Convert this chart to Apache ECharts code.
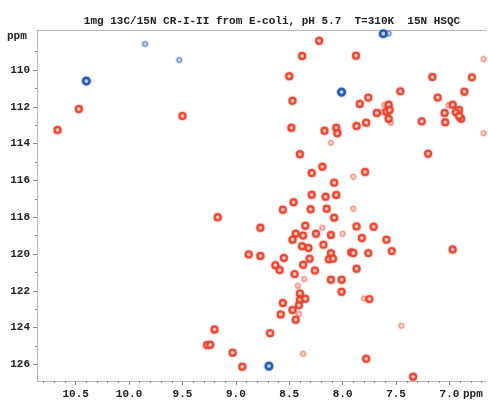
<!DOCTYPE html>
<html>
<head>
<meta charset="utf-8">
<script src="https://cdn.jsdelivr.net/npm/echarts@6/dist/echarts.min.js"></script>
<style>
  html, body { margin: 0; padding: 0; background: #fff; }
  #chart { width: 488px; height: 400px; }
</style>
</head>
<body>
<div id="chart"></div>
<script>
// 1H (x) / 15N (y) chemical shifts in ppm of the HSQC cross peaks
const titleText = '1mg 13C/15N CR-I-II from E-coli, pH 5.7  T=310K  15N HSQC';

const xMajorTicks = [10.5, 10.0, 9.5, 9.0, 8.5, 8.0, 7.5, 7.0];
const yMajorTicks = [110, 112, 114, 116, 118, 120, 122, 124, 126];

// strong positive peaks
const positivePeaks = [
  [8.22, 108.41], [8.38, 109.24], [7.875, 109.22], [8.50, 110.34], [7.16, 110.38],
  [6.79, 110.40], [7.46, 111.16], [6.86, 111.18], [8.47, 111.67], [7.76, 111.50],
  [7.11, 111.50], [7.84, 111.85], [7.57, 111.89], [6.97, 111.89], [7.68, 112.34],
  [7.59, 112.27], [7.56, 112.17], [7.045, 112.34], [6.91, 112.17], [6.94, 112.30],
  [7.57, 112.65], [6.89, 112.65], [6.91, 112.50], [7.26, 112.79], [7.04, 112.84],
  [8.48, 113.14], [8.17, 113.30], [8.06, 113.14], [8.05, 113.44], [7.87, 113.04],
  [7.78, 112.86], [10.47, 112.12], [10.67, 113.26], [9.50, 112.50], [8.40, 114.58],
  [8.19, 115.26], [7.20, 114.55], [8.29, 115.60], [7.79, 115.54], [8.08, 116.12],
  [8.29, 116.78], [8.16, 116.89], [8.06, 116.79], [8.46, 117.19], [8.56, 117.59],
  [8.30, 117.57], [8.15, 117.54], [8.08, 118.03], [9.17, 118.00], [8.77, 118.57],
  [8.35, 118.46], [7.87, 118.50], [7.71, 118.52], [8.44, 118.90], [8.37, 119.00],
  [8.25, 118.90], [8.11, 118.97], [8.47, 119.22], [7.82, 119.13], [7.59, 119.22],
  [8.38, 119.58], [8.32, 119.67], [8.18, 119.49], [8.88, 120.02], [8.77, 120.11],
  [8.55, 120.22], [8.11, 119.96], [7.92, 119.91], [7.90, 119.94], [7.76, 119.95],
  [7.54, 119.84], [6.97, 119.75], [8.31, 120.25], [8.13, 120.29], [8.09, 120.25],
  [8.63, 120.61], [8.37, 120.58], [8.59, 120.87], [8.26, 120.89], [7.87, 120.80],
  [8.45, 121.09], [8.11, 121.40], [8.01, 121.40], [8.01, 122.05], [8.40, 122.14],
  [8.40, 122.50], [8.35, 122.43], [7.75, 122.45], [8.56, 122.66], [8.41, 122.79],
  [8.58, 123.28], [8.47, 123.04], [8.44, 123.57], [9.20, 124.10], [8.68, 124.30],
  [9.27, 124.95], [9.24, 124.93], [9.03, 125.36], [8.94, 126.12], [7.78, 125.69],
  [7.34, 126.67]
];

// weak positive peaks
const weakPeaks = [
  [6.68, 109.40], [7.61, 111.90], [7.01, 111.92], [7.63, 112.27], [7.55, 112.86],
  [6.68, 113.44], [8.11, 113.95], [7.90, 115.80], [7.90, 117.54], [8.19, 118.57],
  [8.00, 118.90], [8.36, 121.36], [8.42, 121.72], [7.80, 122.42], [8.41, 123.26],
  [8.37, 125.42], [7.45, 123.90]
];

// negative (folded) peaks
const negativePeaks = [
  [7.62, 108.03], [8.01, 111.20], [10.40, 110.60], [8.69, 126.09]
];
const weakNegativePeaks = [
  [7.57, 108.02], [9.85, 108.59], [9.53, 109.46]
];

const xMinorTicks = [];
for (let i = 67; i <= 108; i++) xMinorTicks.push(i / 10);
const yMinorTicks = [];
for (let v = 109; v <= 125; v += 2) yMinorTicks.push(v);

const monoFont = '"Liberation Mono", "DejaVu Sans Mono", monospace';
const axisGray = '#b8b8b8';
const tickGray = '#8a8a8a';

const X_MIN = 6.658, X_MAX = 10.862;
const Y_MIN = 107.826, Y_MAX = 126.90;

const chart = echarts.init(document.getElementById('chart'), null, { renderer: 'canvas' });

function xAxisBase(extra) {
  return Object.assign({
    type: 'value', inverse: true, min: X_MIN, max: X_MAX, gridIndex: 0,
    splitLine: { show: false }, axisLine: { show: false }, axisTick: { show: false },
    axisLabel: { show: false }
  }, extra);
}
function yAxisBase(extra) {
  return Object.assign({
    type: 'value', inverse: true, min: Y_MIN, max: Y_MAX, gridIndex: 0,
    splitLine: { show: false }, axisLine: { show: false }, axisTick: { show: false },
    axisLabel: { show: false }
  }, extra);
}

// contour-like ring marker
const ring = (color, size, width) => ({
  type: 'scatter', symbol: 'circle', symbolSize: size,
  itemStyle: { color: '#fff4f2', borderColor: color, borderWidth: width,
               shadowColor: color, shadowBlur: 2, opacity: 0.9 },
  emphasis: { disabled: true }, animation: false
});

chart.setOption({
  animation: false,
  backgroundColor: '#ffffff',
  title: {
    text: titleText, left: 267, top: 11, textAlign: 'center',
    textStyle: { fontFamily: monoFont, fontSize: 11, fontWeight: 'bold', color: '#222' }
  },
  grid: { left: 37, top: 30, width: 449, height: 351, containLabel: false },
  xAxis: [
    xAxisBase({
      position: 'bottom',
      axisLine: { show: true, lineStyle: { color: axisGray, width: 1 } },
      axisTick: { show: true, length: 4, customValues: xMajorTicks, lineStyle: { color: tickGray } },
      axisLabel: { show: true, customValues: xMajorTicks, margin: 8,
        formatter: v => v.toFixed(1),
        fontFamily: monoFont, fontSize: 11, fontWeight: 'bold', color: '#222' }
    }),
    xAxisBase({
      position: 'bottom',
      axisTick: { show: true, length: 2, customValues: xMinorTicks, lineStyle: { color: tickGray } }
    }),
    xAxisBase({
      position: 'top',
      axisLine: { show: true, lineStyle: { color: axisGray, width: 1 } }
    })
  ],
  yAxis: [
    yAxisBase({
      position: 'left',
      axisLine: { show: true, lineStyle: { color: axisGray, width: 1 } },
      axisTick: { show: true, length: 4, customValues: yMajorTicks, lineStyle: { color: tickGray } },
      axisLabel: { show: true, customValues: yMajorTicks, margin: 7,
        fontFamily: monoFont, fontSize: 11, fontWeight: 'bold', color: '#222' }
    }),
    yAxisBase({
      position: 'left',
      axisTick: { show: true, length: 2, customValues: yMinorTicks, lineStyle: { color: tickGray } }
    })
  ],
  graphic: [
    { type: 'text', left: 7, top: 31,
      style: { text: 'ppm', font: 'bold 11px ' + monoFont, fill: '#222' } },
    { type: 'text', left: 463, top: 389,
      style: { text: 'ppm', font: 'bold 11px ' + monoFont, fill: '#222' } }
  ],
  series: [
    Object.assign(ring('#f29386', 4.5, 1.1), { data: weakPeaks }),
    Object.assign(ring('#e5432f', 6, 1.9), { data: positivePeaks }),
    Object.assign(ring('#6f8fcf', 4.5, 1.1), { data: weakNegativePeaks }),
    Object.assign(ring('#1d56b0', 6.5, 2.2), { data: negativePeaks })
  ]
});
</script>
</body>
</html>
